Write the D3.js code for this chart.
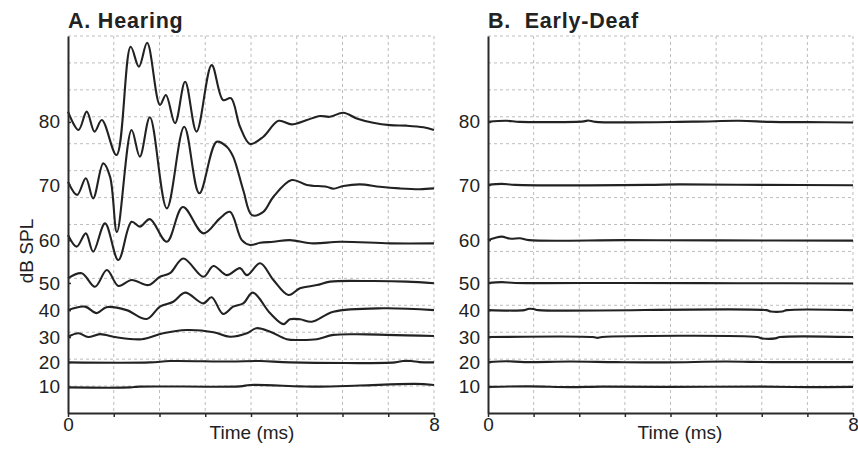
<!DOCTYPE html>
<html>
<head>
<meta charset="utf-8">
<script src="https://cdn.jsdelivr.net/npm/d3@7"></script>
<style>
body { margin: 0; background: #fff; }
svg { display: block; }
text { font-family: "Liberation Sans", Arial, Helvetica, sans-serif; fill: #222; }
</style>
</head>
<body>
<svg id="chart" width="858" height="449"></svg>
<script>
// sound levels and where each trace sits (in uV-ish grid units)
const levels = [10, 20, 30, 40, 50, 60, 70, 80];
const levelOffsets = [0.97, 1.89, 2.82, 3.82, 4.83, 6.42, 8.47, 10.81];
const timeTicks = [0, 1, 2, 3, 4, 5, 6, 7, 8];

// A. Hearing  -- [time ms, amplitude]
const hearing80 = [[0,11.19],[0.23,10.51],[0.41,11.19],[0.58,10.45],[0.74,10.88],[1.06,9.58],[1.37,13.60],[1.55,12.86],[1.73,13.75],[2.01,11.44],[2.14,11.81],[2.34,10.76],[2.56,12.30],[2.81,10.45],[3.14,12.92],[3.39,11.62],[3.56,11.69],[3.76,10.63],[3.98,9.99],[4.27,10.26],[4.60,10.85],[4.89,10.72],[5.22,10.88],[5.51,11.03],[5.72,11.00],[6.02,11.15],[6.31,10.94],[6.67,10.78],[7.04,10.69],[7.40,10.67],[7.77,10.61],[8,10.51]];
const hearing70 = [[0,8.59],[0.20,8.10],[0.39,8.72],[0.55,7.97],[0.77,9.27],[0.92,8.77],[1.07,6.72],[1.39,10.51],[1.57,9.52],[1.79,10.98],[2.16,7.60],[2.54,10.63],[2.87,8.16],[3.25,10.07],[3.47,9.89],[3.61,9.52],[3.83,8.28],[4.02,7.35],[4.27,7.47],[4.49,8.03],[4.89,8.65],[5.22,8.47],[5.65,8.40],[5.80,8.33],[6.02,8.43],[6.38,8.49],[6.82,8.40],[7.25,8.34],[7.69,8.31],[8,8.34]];
const hearing60 = [[0,6.61],[0.19,6.18],[0.39,6.67],[0.55,5.99],[0.81,7.04],[1.10,5.68],[1.39,7.10],[1.57,6.92],[1.79,7.20],[2.16,6.36],[2.51,7.65],[2.96,6.67],[3.32,7.23],[3.54,7.47],[3.80,6.42],[3.98,6.24],[4.20,6.32],[4.49,6.36],[4.85,6.42],[5.36,6.30],[5.95,6.36],[7.04,6.30],[8,6.30]];
const hearing50 = [[0,5.00],[0.30,5.19],[0.59,4.69],[0.85,5.31],[1.10,4.72],[1.39,4.94],[1.76,4.75],[2.01,5.06],[2.23,5.19],[2.52,5.74],[2.96,5.06],[3.18,5.46],[3.47,5.12],[3.76,5.38],[3.91,5.12],[4.20,5.56],[4.49,4.94],[4.82,4.38],[5.07,4.63],[5.44,4.75],[5.73,4.88],[6.67,4.90],[7.40,4.88],[8,4.82]];
const hearing40 = [[0,3.82],[0.37,3.95],[0.63,3.71],[0.84,3.93],[1.28,3.82],[1.72,3.49],[2.01,3.95],[2.30,4.13],[2.56,4.47],[2.96,4.07],[3.14,4.30],[3.39,3.68],[3.61,3.95],[3.83,4.07],[4.04,4.47],[4.42,3.70],[4.71,3.30],[4.85,3.48],[5.07,3.48],[5.33,3.39],[5.80,3.76],[6.89,3.89],[8,3.82]];
const hearing30 = [[0,2.83],[0.23,2.96],[0.44,2.82],[0.70,2.93],[1.06,2.81],[1.61,2.74],[2.08,2.96],[2.59,3.08],[3.18,3.00],[3.54,2.83],[3.91,2.96],[4.12,3.15],[4.42,3.02],[4.78,2.74],[5.07,2.71],[5.44,2.74],[5.80,2.90],[6.53,2.92],[8,2.86]];
const hearing20 = [[0,1.88],[1.79,1.88],[2.23,1.93],[3.54,1.91],[4.20,1.93],[4.85,1.88],[7.15,1.88],[7.32,1.93],[7.5,1.93],[7.68,1.89],[8,1.88]];
const hearing10 = [[0,0.95],[1.36,0.95],[1.55,0.98],[3.76,0.99],[3.98,1.04],[5.07,0.99],[5.51,0.98],[6.38,1.02],[7.58,1.08],[8,1.04]];

// B. Early-Deaf -- basically flat
const deaf80 = [[0,10.81],[0.4,10.85],[0.7,10.81],[2.1,10.83],[2.2,10.86],[2.35,10.81],[4.5,10.82],[5.5,10.85],[6.2,10.81],[7,10.80],[8,10.79]];
const deaf70 = [[0,8.47],[0.3,8.51],[0.6,8.47],[3.5,8.47],[4.2,8.49],[6,8.47],[8,8.46]];
const deaf60 = [[0,6.42],[0.15,6.50],[0.3,6.55],[0.5,6.47],[0.7,6.49],[0.9,6.42],[3,6.42],[5,6.41],[8,6.40]];
const deaf50 = [[0,4.83],[0.3,4.86],[0.6,4.83],[3,4.83],[5.5,4.82],[8,4.81]];
const deaf40 = [[0,3.82],[0.8,3.82],[0.9,3.87],[1.0,3.86],[1.1,3.82],[6.1,3.82],[6.2,3.77],[6.45,3.77],[6.55,3.82],[8,3.82]];
const deaf30 = [[0,2.82],[2.3,2.82],[2.4,2.79],[2.5,2.82],[5.9,2.82],[6.0,2.77],[6.3,2.77],[6.4,2.82],[8,2.82]];
const deaf20 = [[0,1.89],[0.4,1.92],[0.8,1.89],[1.8,1.91],[2.8,1.89],[3.9,1.88],[5.2,1.91],[6.2,1.89],[8,1.89]];
const deaf10 = [[0,0.97],[0.9,0.99],[1.8,0.96],[2.5,0.98],[4,0.97],[6,0.98],[7,0.96],[8,0.97]];

const hearing = [hearing10, hearing20, hearing30, hearing40, hearing50, hearing60, hearing70, hearing80];
const deaf = [deaf10, deaf20, deaf30, deaf40, deaf50, deaf60, deaf70, deaf80];

const svg = d3.select('#chart');
const plotTop = 36, plotBottom = 413;

const y = d3.scaleLinear().domain([0, 14]).range([plotBottom, plotTop]);

const panels = [
    {x0: 68, x1: 434, title: 'A. Hearing', traces: hearing, xlabel: 252},
    {x0: 488, x1: 853, title: 'B.\u00a0\u00a0Early-Deaf', traces: deaf, xlabel: 680}
];

panels.forEach(p => {
    let x = d3.scaleLinear().domain([0, 8]).range([p.x0, p.x1]);
    let g = svg.append('g');

    // dashed grid
    g.append('g').selectAll('line').data(timeTicks.slice(1)).join('line')
        .attr('x1', d => x(d)).attr('x2', d => x(d))
        .attr('y1', plotTop).attr('y2', plotBottom)
        .attr('stroke', '#bdbdbd').attr('stroke-width', 1).attr('stroke-dasharray', '3,3');
    g.append('g').selectAll('line').data(d3.range(1, 15)).join('line')
        .attr('x1', p.x0).attr('x2', p.x1)
        .attr('y1', d => y(d)).attr('y2', d => y(d))
        .attr('stroke', '#bdbdbd').attr('stroke-width', 1).attr('stroke-dasharray', '3,3');

    // traces
    let line = d3.line().x(d => x(d[0])).y(d => y(d[1])).curve(d3.curveCatmullRom.alpha(0.5));
    g.append('g').selectAll('path').data(p.traces).join('path')
        .attr('d', line)
        .attr('fill', 'none').attr('stroke', '#222').attr('stroke-width', 2.1)
        .attr('stroke-linejoin', 'round');

    // axes
    let xAxis = d3.axisBottom(x).tickValues(timeTicks).tickSizeInner(4).tickSizeOuter(0).tickPadding(1)
        .tickFormat(d => (d == 0 || d == 8) ? d : '');
    let gx = g.append('g').attr('transform', 'translate(0,' + plotBottom + ')').call(xAxis);

    let yAxis = d3.axisLeft(y).tickValues(levelOffsets).tickSizeInner(-3).tickSizeOuter(0).tickPadding(8)
        .tickFormat((d, i) => levels[i]);
    let gy = g.append('g').attr('transform', 'translate(' + p.x0 + ',0)').call(yAxis);

    [gx, gy].forEach(a => {
        a.select('.domain').attr('stroke', '#2a2a2a').attr('stroke-width', 2);
        a.selectAll('.tick line').attr('stroke', '#2a2a2a').attr('stroke-width', 1.5);
        a.selectAll('.tick text').style('font-size', '19px').attr('fill', '#222');
    });

    g.append('text').attr('x', p.xlabel).attr('y', 439)
        .attr('text-anchor', 'middle').style('font-size', '19px').text('Time (ms)');

    g.append('text').attr('x', p.x0).attr('y', 27.5)
        .style('font-size', '21.5px').style('font-weight', 'bold').style('letter-spacing', '0.8px')
        .text(p.title);
});

svg.append('text')
    .attr('transform', 'translate(33,251) rotate(-90)')
    .attr('text-anchor', 'middle').style('font-size', '19px').text('dB SPL');
</script>
</body>
</html>
